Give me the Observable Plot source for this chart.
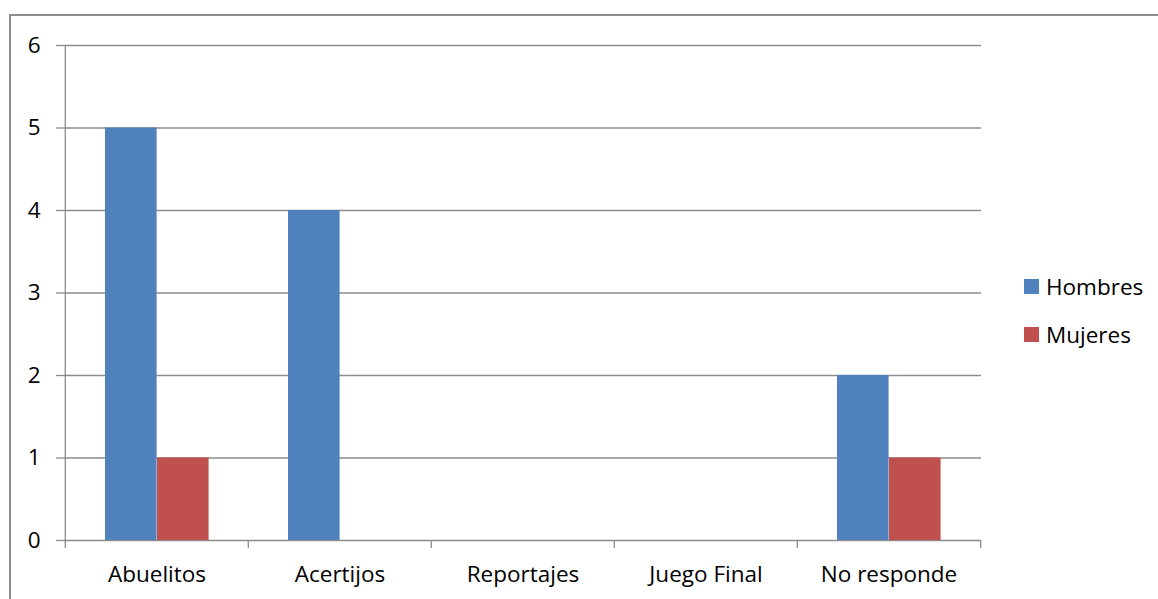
<!DOCTYPE html>
<html>
<head>
<meta charset="utf-8">
<script src="https://cdn.jsdelivr.net/npm/d3@7"></script>
<script src="https://cdn.jsdelivr.net/npm/@observablehq/plot@0.6"></script>
<style>
  body { margin: 0; background: #fff; font-family: "Open Sans", sans-serif; }
  #wrap { position: relative; width: 1158px; height: 599px; overflow: hidden; }
  #border { position: absolute; left: 9px; top: 14px; width: 1200px; height: 700px; border: 2px solid #8c8c8c; box-sizing: border-box; }
  #chart { position: absolute; left: 0; top: 0; }
  #legend { position: absolute; left: 1024px; top: 270px; font-size: 22.5px; color: #000; }
  .item { display: flex; align-items: center; height: 32px; margin-bottom: 16px; }
  .sw { width: 15px; height: 15px; margin-right: 7px; }
  #chart svg text { fill: #000; }
</style>
</head>
<body>
<div id="wrap">
  <div id="border"></div>
  <div id="chart"></div>
  <div id="legend"></div>
</div>
<script>
const categories = ["Abuelitos", "Acertijos", "Reportajes", "Juego Final", "No responde"];
const hombres = [5, 4, 0, 0, 2];
const mujeres = [1, 0, 0, 0, 1];
const seriesNames = ["Hombres", "Mujeres"];
const seriesColors = ["#4F81BD", "#C0504D"];
const yTicks = [0, 1, 2, 3, 4, 5, 6];

const dataH = categories.map((c, i) => ({category: c, value: hombres[i]}));
const dataM = categories.map((c, i) => ({category: c, value: mujeres[i]}));

const W = 1158, H = 599;
const mL = 64, mR = W - 981, mT = 45, mB = H - 540;
const band = (W - mL - mR) / categories.length;
const gridColor = "#8c8c8c";

const chart = Plot.plot({
  width: W,
  height: H,
  marginLeft: mL,
  marginRight: mR,
  marginTop: mT,
  marginBottom: mB,
  style: {fontFamily: "'Open Sans', sans-serif", fontSize: "22.5px", color: "#000", background: "transparent"},
  x: {domain: categories, padding: 0, label: null},
  y: {domain: [0, 6], label: null},
  marks: [
    Plot.gridY(yTicks, {stroke: gridColor, strokeOpacity: 1, strokeWidth: 1.3}),
    Plot.axisY(yTicks, {tickSize: 8, tickPadding: 16, stroke: gridColor, strokeWidth: 1.3, fontSize: 22.5, fill: "#000", label: null, tickFormat: d => String(d)}),
    Plot.barY(dataH, {x: "category", y: "value", fill: seriesColors[0], insetLeft: 40, insetRight: band - 92}),
    Plot.barY(dataM, {x: "category", y: "value", fill: seriesColors[1], insetLeft: 92, insetRight: band - 144}),
    // y axis line
    Plot.ruleX([categories[0]], {x: d => d, dx: -band / 2, stroke: gridColor, strokeWidth: 1.3}),
    // x axis boundary ticks
    Plot.ruleX(categories, {x: d => d, dx: -band / 2, dy: 8, insetTop: (540 - mT) - 8, stroke: gridColor, strokeWidth: 1.3}),
    Plot.ruleX([categories[categories.length - 1]], {x: d => d, dx: band / 2, dy: 8, insetTop: (540 - mT) - 8, stroke: gridColor, strokeWidth: 1.3}),
    Plot.axisX({tickSize: 0, tickPadding: 26, fontSize: 22.5, fill: "#000", label: null})
  ]
});
document.getElementById("chart").appendChild(chart);

const legend = document.getElementById("legend");
seriesNames.forEach((n, i) => {
  const item = document.createElement("div");
  item.className = "item";
  item.innerHTML = `<div class="sw" style="background:${seriesColors[i]}"></div><span>${n}</span>`;
  legend.appendChild(item);
});
</script>
</body>
</html>
